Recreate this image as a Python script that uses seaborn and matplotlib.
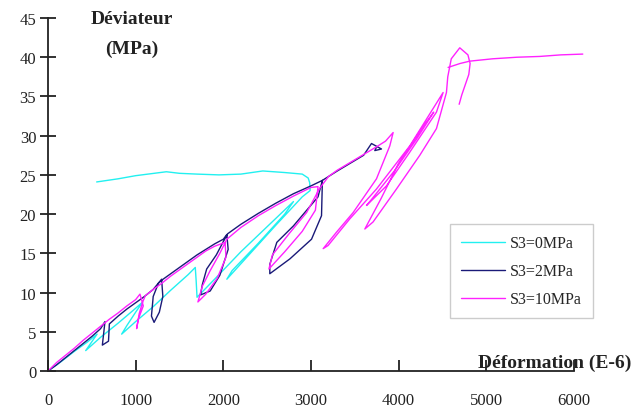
import numpy as np
import pandas as pd
import matplotlib
matplotlib.use("Agg")
import matplotlib.pyplot as plt
import seaborn as sns

# ---------------- data ----------------
series_names = ["S3=0MPa", "S3=2MPa", "S3=10MPa"]
series_colors = ["#22F0F0", "#1A1A78", "#FF22FF"]

# S3 = 0 MPa (cyan)
s0_x = [0, 150, 300, 450, 560, 430, 600, 800, 1000, 1080, 1000, 900, 840,
        1000, 1200, 1400, 1600, 1680, 1690, 1700,
        1900, 2200, 2500, 2800, 2700, 2400, 2100, 2040,
        2300, 2600, 2900, 2990, 2985, 2968, 2900, 2700, 2450, 2200,
        1950, 1700, 1500, 1350, 1000, 800, 555]
s0_y = [0, 1.2, 2.5, 3.7, 4.7, 2.6, 4.3, 6.1, 8.0, 8.8, 7.5, 5.8, 4.7,
        6.3, 8.2, 10.3, 12.3, 13.2, 11.5, 9.4,
        11.7, 15.2, 18.4, 21.6, 20.0, 16.3, 12.8, 11.7,
        14.9, 18.6, 22.2, 23.0, 24.0, 24.6, 25.1, 25.3, 25.5, 25.1,
        25.0, 25.1, 25.2, 25.4, 24.9, 24.5, 24.1]

# S3 = 2 MPa (navy)
s2_x = [0, 100, 200, 300, 400, 500, 600, 650, 620, 690, 700,
        800, 900, 1000, 1100, 1200, 1296, 1310, 1270, 1210, 1180, 1200, 1260, 1300,
        1400, 1500, 1600, 1700, 1800, 1900, 2000, 2040,
        2055, 1960, 1850, 1740, 1760, 1810, 1920, 2000, 2050,
        2200, 2400, 2600, 2800, 3000, 3130,
        3120, 3006, 2760, 2530, 2530, 2610, 2800, 3080, 3130,
        3300, 3450, 3600, 3690, 3804, 3728, 3750]
s2_y = [0, 0.8, 1.7, 2.6, 3.5, 4.4, 5.4, 6.3, 3.3, 3.8, 6.0,
        7.0, 7.9, 8.7, 9.5, 10.4, 11.7, 9.5, 7.5, 6.2, 7.0, 9.5, 11.2, 11.6,
        12.4, 13.2, 14.0, 14.8, 15.5, 16.2, 16.8, 17.4,
        15.5, 12.2, 10.2, 9.7, 11.0, 13.0, 14.8, 16.5, 17.5,
        18.7, 20.1, 21.4, 22.6, 23.6, 24.3,
        19.8, 16.8, 14.3, 12.4, 13.6, 16.4, 18.5, 22.2, 24.3,
        25.5, 26.5, 27.5, 29.0, 28.3, 28.1, 28.6]

# S3 = 10 MPa (magenta) - main path
s10_x = [0, 100, 200, 300, 400, 500, 600, 700, 800, 900, 1000, 1049,
         1087, 1030, 1011, 1040, 1080, 1110,
         1200, 1300, 1400, 1500, 1600, 1700, 1800, 1900, 2020,
         2030, 1930, 1800, 1710, 1760, 1850, 1960, 2040,
         2200, 2400, 2600, 2800, 3000, 3080,
         3050, 2900, 2700, 2520, 2560, 2750, 2950, 3100, 3200,
         3300, 3450, 3600, 3750, 3850, 3937, 3899,
         3747, 3481, 3291, 3139, 3195, 3443, 3747, 4127, 4317, 4507,
         4431, 4127, 3861, 3633, 3700, 3950, 4200, 4400,
         4300, 4000, 3800, 3614, 3708, 3975, 4241, 4431, 4545,
         4560, 4600, 4697, 4790, 4815, 4800, 4760, 4720, 4690]
s10_y = [0, 1.1, 2.0, 2.9, 3.9, 4.8, 5.7, 6.6, 7.4, 8.3, 9.1, 9.8,
         8.3, 6.6, 5.4, 7.3, 8.8, 9.6,
         10.4, 11.2, 12.1, 12.9, 13.7, 14.5, 15.3, 15.9, 16.4,
         14.5, 11.8, 9.8, 8.8, 10.8, 12.8, 15.0, 16.8,
         18.3, 19.8, 21.1, 22.3, 23.4, 23.5,
         20.5, 17.8, 15.2, 13.0, 14.8, 17.5, 20.2, 23.3, 24.8,
         25.6, 26.6, 27.6, 28.6, 29.3, 30.4, 28.7,
         24.5, 20.2, 17.7, 15.6, 16.0, 19.4, 23.2, 28.7, 32.1, 35.5,
         33.0, 27.9, 23.6, 21.1, 22.0, 25.5, 29.5, 33.0,
         31.5, 26.5, 22.0, 18.1, 19.0, 23.2, 27.5, 30.9, 35.5,
         37.5, 39.8, 41.2, 40.3, 39.2, 37.8, 36.5, 35.2, 34.0]

# S3 = 10 MPa (magenta) - final plateau
s10_tail_x = [4564, 4700, 4811, 5073, 5350, 5609, 5850, 6100]
s10_tail_y = [38.7, 39.2, 39.5, 39.8, 40.0, 40.1, 40.3, 40.4]

x_ticks = [0, 1000, 2000, 3000, 4000, 5000, 6000]
y_ticks = [0, 5, 10, 15, 20, 25, 30, 35, 40, 45]

# ---------------- build table ----------------
frames = [
    pd.DataFrame({"x": s0_x, "y": s0_y, "series": series_names[0], "seg": "a"}),
    pd.DataFrame({"x": s2_x, "y": s2_y, "series": series_names[1], "seg": "b"}),
    pd.DataFrame({"x": s10_x, "y": s10_y, "series": series_names[2], "seg": "c"}),
    pd.DataFrame({"x": s10_tail_x, "y": s10_tail_y, "series": series_names[2], "seg": "d"}),
]
df = pd.concat(frames, ignore_index=True)

sns.set_style("white")
plt.rcParams["font.family"] = ["Liberation Serif", "DejaVu Sans"]

fig = plt.figure(figsize=(6.33, 4.10), dpi=100)
ax = fig.add_axes([48 / 633, 38 / 410, (574 - 48) / 633, (372 - 19) / 410])

sns.lineplot(data=df, x="x", y="y", hue="series", hue_order=series_names,
             palette=dict(zip(series_names, series_colors)), units="seg",
             estimator=None, sort=False, linewidth=1.0, ax=ax, legend=True)
for ln in ax.lines:
    ln.set_clip_on(False)

ax.set_xlim(0, 6000)
ax.set_ylim(0, 45)
ax.set_xticks(x_ticks)
ax.set_yticks(y_ticks)
ax.set_xlabel("")
ax.set_ylabel("")
for s in ["top", "right"]:
    ax.spines[s].set_visible(False)
for s in ["left", "bottom"]:
    ax.spines[s].set_color("#222222")
    ax.spines[s].set_linewidth(1.3)
ax.tick_params(axis="y", left=True, direction="inout", length=11, width=1.3,
               color="#222222", labelsize=12, labelcolor="#222222", pad=3)
ax.tick_params(axis="x", bottom=True, direction="in", length=8, width=1.3,
               color="#222222", labelsize=12, labelcolor="#222222", pad=15)
ax.grid(False)

fig.text(132 / 633, 1 - 20 / 410, "Déviateur", ha="center", va="center",
         fontsize=14, fontweight="bold", color="#222222")
fig.text(132 / 633, 1 - 49 / 410, "(MPa)", ha="center", va="center",
         fontsize=14, fontweight="bold", color="#222222")
fig.text(631 / 633, 1 - 363 / 410, "Déformation (E-6)", ha="right", va="center",
         fontsize=14, fontweight="bold", color="#222222")

handles, labels = ax.get_legend_handles_labels()
leg = ax.legend(handles, labels, loc="upper left",
                bbox_to_anchor=(450 / 633, 1 - 225 / 410), bbox_transform=fig.transFigure,
                borderaxespad=0,
                frameon=True, fancybox=False, edgecolor="#cccccc", framealpha=1,
                fontsize=11.5, handlelength=2.75, labelspacing=0.75, borderpad=0.7,
                handletextpad=0.3)
leg.get_frame().set_linewidth(1.0)

fig.savefig("out.png", dpi=100)
